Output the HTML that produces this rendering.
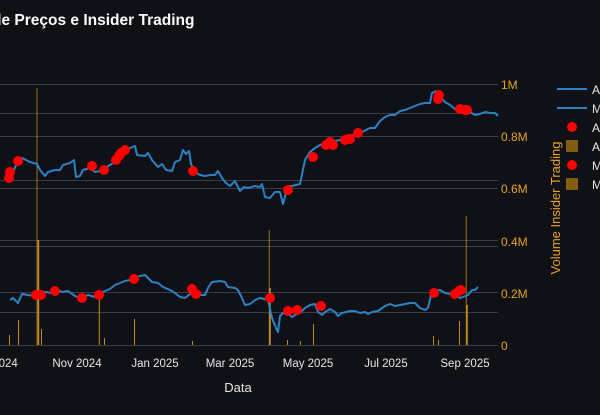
<!DOCTYPE html>
<html><head><meta charset="utf-8"><style>
html,body{margin:0;padding:0;background:#0f1117;}
svg{display:block;font-family:"Liberation Sans","DejaVu Sans",sans-serif;}
</style></head><body>
<svg width="600" height="415" viewBox="0 0 600 415" xmlns="http://www.w3.org/2000/svg">
<rect width="600" height="415" fill="#0f1117"/>
<text x="-8" y="25" fill="#fafafa" font-size="15.5" font-weight="bold">de Preços e Insider Trading</text>
<g stroke="#3a3d45" stroke-width="1">
<line x1="0" x2="498" y1="84.5" y2="84.5"/><line x1="0" x2="498" y1="113.5" y2="113.5"/>
<line x1="0" x2="498" y1="136.5" y2="136.5"/><line x1="0" x2="498" y1="180.5" y2="180.5"/>
<line x1="0" x2="498" y1="188.5" y2="188.5"/><line x1="0" x2="498" y1="240.5" y2="240.5"/>
<line x1="0" x2="498" y1="246.5" y2="246.5"/><line x1="0" x2="498" y1="292.5" y2="292.5"/>
<line x1="0" x2="498" y1="312.5" y2="312.5"/><line x1="0" x2="498" y1="345.5" y2="345.5"/>
</g>
<g fill="#c08a1e" stroke="none">
<rect x="36.6" y="88" width="0.8" height="257"/>
<rect x="37.6" y="240" width="1.6" height="105"/>
<rect x="268.8" y="230" width="0.8" height="115"/>
<rect x="269.4" y="288" width="1.4" height="57"/>
<rect x="465.8" y="216" width="0.8" height="129"/>
<rect x="466.2" y="305" width="1.6" height="40"/>
<rect x="98.8" y="293" width="1" height="52"/>
<rect x="9" y="335" width="1" height="10"/><rect x="18" y="320" width="1" height="25"/>
<rect x="41" y="329" width="1" height="16"/><rect x="104" y="338" width="1" height="7"/>
<rect x="134" y="319" width="1" height="26"/><rect x="192" y="341" width="1" height="4"/>
<rect x="313" y="324" width="1" height="21"/><rect x="287" y="340" width="1" height="5"/>
<rect x="300" y="341" width="1" height="4"/><rect x="433" y="336" width="1" height="9"/>
<rect x="459" y="321" width="1" height="24"/><rect x="438" y="340" width="1" height="5"/>
</g>
<g fill="none" stroke="#2a82c4" stroke-width="2" stroke-linejoin="round">
<polyline points="7,181 9,178 12,175 18,160 22,158 30,162 37,164 40,170 45,176 48,172 55,170 60,170 63,165 70,163 74,160 76,177 80,176 83,170 90,168 95,172 100,171 104,169 110,165 115,162 120,156 125,151 130,148 135,146 137,155 145,156 148,153 152,160 158,167 162,164 166,170 172,171 175,162 180,160 183,150 186,154 189,151 191,164 195,172 200,175 205,176 210,175 215,175 218,171 222,178 226,183 230,186 235,181 240,191 244,187 248,188 255,186 260,187 262,184 265,197 270,198 275,192 280,192 283,204 288,186 292,186 300,184 305,160 310,152 315,148 320,145 330,142 340,140 350,136 360,133 370,128 375,128 380,121 385,117 390,115 395,115 400,111 405,110 410,108 415,106 420,104 425,103 430,103 432,93 436,91 440,97 445,102 450,105 455,109 460,111 470,112 475,115 480,114 485,112 490,113 495,113 498,116"/>
<polyline points="10,300 13,298 18,303 22,294 28,295 35,296 40,295 45,292 52,293 58,290 62,292 68,291 75,296 80,298 88,295 95,297 100,293 105,291 110,289 115,285 120,283 125,281 130,280 135,278 140,276 145,275 148,278 152,282 158,283 163,287 170,290 175,293 180,297 185,298 190,294 193,290 198,295 205,295 208,288 212,282 220,281 225,282 228,287 235,288 238,290 242,298 245,305 250,304 255,300 260,298 268,300 272,318 276,328 278,332 280,316 283,313 288,314 292,317 295,315 300,313 305,308 310,305 315,304 318,312 322,315 325,312 330,309 335,312 338,316 342,313 350,311 355,311 360,313 365,312 368,314 372,312 378,311 385,306 390,304 395,306 400,305 405,304 410,303 415,303 420,308 425,310 428,308 432,291 440,290 445,293 450,294 455,293 460,298 468,295 472,290 475,290 478,287"/>
</g>
<g fill="#ff0000">
<circle cx="9" cy="178" r="5"/><circle cx="10" cy="172" r="5"/><circle cx="18" cy="161" r="5"/>
<circle cx="92" cy="166" r="5"/><circle cx="104" cy="170" r="5"/><circle cx="116" cy="160" r="5"/>
<circle cx="119" cy="156" r="5"/><circle cx="121" cy="153" r="5"/><circle cx="125" cy="150" r="5"/>
<circle cx="193" cy="171" r="5"/><circle cx="288" cy="190" r="5"/><circle cx="313" cy="157" r="5"/>
<circle cx="326" cy="145" r="5"/><circle cx="330" cy="142" r="5"/><circle cx="333" cy="145" r="5"/>
<circle cx="345" cy="140" r="5"/><circle cx="348" cy="139" r="5"/><circle cx="350" cy="139" r="5"/>
<circle cx="358" cy="133" r="5"/><circle cx="439" cy="95" r="5"/><circle cx="438" cy="99" r="5"/>
<circle cx="460" cy="109" r="5"/><circle cx="465" cy="110" r="5"/><circle cx="467" cy="110" r="5"/>
<circle cx="36" cy="295" r="5"/><circle cx="41" cy="295" r="5"/><circle cx="55" cy="291" r="5"/>
<circle cx="82" cy="298" r="5"/><circle cx="99" cy="295" r="5"/><circle cx="134" cy="279" r="5"/>
<circle cx="192" cy="289" r="5"/><circle cx="196" cy="294" r="5"/><circle cx="270" cy="298" r="5"/>
<circle cx="288" cy="311" r="5"/><circle cx="297" cy="310" r="5"/><circle cx="321" cy="306" r="5"/>
<circle cx="434" cy="293" r="5"/><circle cx="455" cy="294" r="5"/><circle cx="459" cy="291" r="5"/>
<circle cx="461" cy="290" r="5"/>
</g>
<g fill="#e8a317" font-size="12">
<text x="501" y="89">1M</text><text x="501" y="141">0.8M</text><text x="501" y="193">0.6M</text>
<text x="501" y="246">0.4M</text><text x="501" y="298">0.2M</text><text x="501" y="350">0</text>
</g>
<text transform="translate(560,208) rotate(-90)" text-anchor="middle" fill="#e8a317" font-size="13">Volume Insider Trading</text>
<g fill="#e6e6e6" font-size="11.5" text-anchor="middle">
<text x="5" y="367">2024</text><text x="77" y="367">Nov 2024</text><text x="155" y="367">Jan 2025</text>
<text x="230" y="367">Mar 2025</text><text x="308" y="367">May 2025</text><text x="386" y="367">Jul 2025</text>
<text x="465" y="367">Sep 2025</text>
</g>
<text x="238" y="392" text-anchor="middle" fill="#e6e6e6" font-size="13">Data</text>
<g stroke="#2a82c4" stroke-width="2"><line x1="557" x2="587" y1="89" y2="89"/><line x1="557" x2="587" y1="108" y2="108"/></g>
<circle cx="572" cy="127" r="5" fill="#ff0000"/><circle cx="572" cy="165" r="5" fill="#ff0000"/>
<rect x="566" y="140" width="12" height="12" fill="#7f5d12"/><rect x="566" y="178" width="12" height="12" fill="#7f5d12"/>
<g fill="#e6e6e6" font-size="12">
<text x="592" y="94">A</text><text x="592" y="113">M</text><text x="592" y="132">A</text>
<text x="592" y="151">A</text><text x="592" y="170">M</text><text x="592" y="189">M</text>
</g>
</svg>
</body></html>
